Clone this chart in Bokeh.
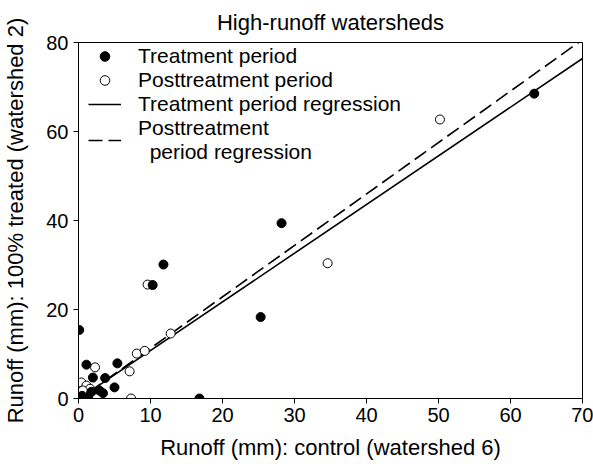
from bokeh.plotting import figure
from bokeh.models import Range1d, Legend, LegendItem, FixedTicker
from bokeh.embed import file_html
from bokeh.resources import INLINE

# Treatment period (filled)
treat_x = [63.3, 28.2, 25.3, 11.8, 10.3, 16.8, 0.1, 5.4, 1.1, 2.0, 3.7, 5.0, 2.9, 3.4, 1.8, 0.5, 1.3]
treat_y = [68.5, 39.4, 18.3, 30.1, 25.5, 0.0, 15.4, 7.9, 7.6, 4.7, 4.6, 2.5, 1.8, 1.2, 1.5, 0.6, 0.3]

# Posttreatment period (open)
post_x = [50.2, 34.6, 9.6, 12.8, 8.1, 9.2, 7.1, 2.3, 0.4, 1.1, 1.6, 0.2, 0.0, 0.8, 1.3, 7.3, 0.6]
post_y = [62.7, 30.4, 25.6, 14.6, 10.1, 10.7, 6.1, 7.0, 3.6, 2.9, 2.2, 1.2, 0.3, 0.5, 0.5, 0.0, 1.8]

# Regression lines (slope, intercept) and x extent
treat_slope, treat_icpt = 1.094, -0.17
post_slope, post_icpt = 1.156, -0.28
reg_x = [1.5, 70.0]

x_ticks = [0, 10, 20, 30, 40, 50, 60, 70]
y_ticks = [0, 20, 40, 60, 80]

FONT = "Liberation Sans"

p = figure(width=593, height=464, output_backend="svg", toolbar_location=None,
           x_range=Range1d(0, 70), y_range=Range1d(0, 80),
           title="High-runoff watersheds")
p.min_border_left = 77
p.min_border_right = 11
p.min_border_top = 42
p.min_border_bottom = 66

p.title.align = "center"
p.title.text_font = FONT
p.title.text_font_size = "22px"
p.title.text_font_style = "normal"
p.title.text_color = "black"
p.title.standoff = 15

p.grid.visible = False
p.outline_line_color = "black"
p.outline_line_width = 1

for ax in (p.xaxis, p.yaxis):
    ax.major_label_text_font = FONT
    ax.major_label_text_font_size = "20px"
    ax.major_label_text_color = "black"
    ax.axis_label_text_font = FONT
    ax.axis_label_text_font_size = "22px"
    ax.axis_label_text_font_style = "normal"
    ax.axis_label_text_color = "black"
    ax.minor_tick_line_color = None
    ax.major_tick_in = 0
    ax.major_tick_out = 5
    ax.axis_line_color = "black"
    ax.major_tick_line_color = "black"

p.xaxis.ticker = FixedTicker(ticks=x_ticks)
p.yaxis.ticker = FixedTicker(ticks=y_ticks)
p.xaxis.axis_label = "Runoff (mm): control (watershed 6)"
p.yaxis.axis_label = "Runoff (mm): 100% treated (watershed 2)"
p.xaxis.major_label_standoff = 4
p.yaxis.major_label_standoff = 5
p.xaxis.axis_label_standoff = 10
p.yaxis.axis_label_standoff = 15

solid_y = [treat_slope * x + treat_icpt for x in reg_x]
dash_y = [post_slope * x + post_icpt for x in reg_x]

r_solid = p.line(reg_x, solid_y, line_color="black", line_width=1.6)
r_dash = p.line(reg_x, dash_y, line_color="black", line_width=1.6, line_dash="14 6")

r_post = p.scatter(post_x, post_y, marker="circle", size=9, fill_color="white",
                   line_color="black", line_width=1)
r_treat = p.scatter(treat_x, treat_y, marker="circle", size=9, fill_color="black",
                    line_color="black")

legend = Legend(items=[
    LegendItem(label="Treatment period", renderers=[r_treat]),
    LegendItem(label="Posttreatment period", renderers=[r_post]),
    LegendItem(label="Treatment period regression", renderers=[r_solid]),
    LegendItem(label="Posttreatment\n  period regression", renderers=[r_dash]),
], location=(10, 234))
legend.border_line_color = None
legend.background_fill_alpha = 0
legend.label_text_font = FONT
legend.label_text_font_size = "21px"
legend.label_text_color = "black"
legend.label_height = 24
legend.glyph_height = 24
legend.glyph_width = 33
legend.spacing = 0
legend.padding = 0
legend.margin = 0
legend.label_standoff = 17
p.add_layout(legend)

open("out.html", "w").write(file_html(p, INLINE))
